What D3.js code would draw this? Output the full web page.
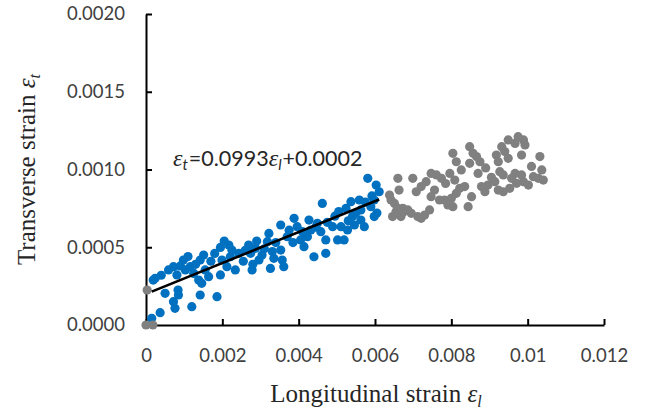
<!DOCTYPE html>
<html>
<head>
<meta charset="utf-8">
<script src="https://cdn.jsdelivr.net/npm/d3@7"></script>
<style>
  body { margin: 0; background: #fff; }
  svg { display: block; }
  .tick text { font-family: Lato, "Open Sans", sans-serif; fill: #404040; }
  .title { font-family: "Liberation Serif", serif; fill: #262626; }
  .eq { font-family: Lato, sans-serif; fill: #262626; }
</style>
</head>
<body>
<svg id="chart" width="647" height="412"></svg>
<script>
// fitted range (blue) — [longitudinal, transverse]
const bluePoints = [
  [0.00019,0.000289],[0.00024,0.000300],[0.00015,0.000043],[0.00037,0.000079],[0.00059,0.000354],
  [0.00072,0.000375],[0.00081,0.000322],[0.00098,0.000418],[0.00103,0.000354],[0.00116,0.000375],
  [0.00125,0.000332],[0.00142,0.000418],[0.00151,0.000450],[0.00155,0.000354],[0.00138,0.000289],
  [0.00146,0.000268],[0.00164,0.000311],[0.00050,0.000204],[0.00072,0.000150],[0.00076,0.000107],
  [0.00085,0.000193],[0.00120,0.000118],[0.00142,0.000193],[0.00186,0.000182],[0.00195,0.000499],
  [0.00217,0.000514],[0.00199,0.000418],[0.00221,0.000439],[0.00234,0.000354],[0.00212,0.000375],
  [0.00225,0.000482],[0.00243,0.000461],[0.00195,0.000322],[0.00269,0.000514],[0.00274,0.000461],
  [0.00287,0.000493],[0.00296,0.000418],[0.00278,0.000354],[0.00304,0.000450],[0.00318,0.000536],
  [0.00322,0.000589],[0.00331,0.000472],[0.00335,0.000429],[0.00326,0.000364],[0.00353,0.000482],
  [0.00357,0.000418],[0.00361,0.000375],[0.00353,0.000643],[0.00370,0.000568],[0.00388,0.000686],
  [0.00396,0.000632],[0.00405,0.000547],[0.00414,0.000504],[0.00427,0.000675],[0.00432,0.000611],
  [0.00423,0.000568],[0.00440,0.000439],[0.00449,0.000654],[0.00462,0.000782],[0.00458,0.000600],
  [0.00471,0.000461],[0.00471,0.000547],[0.00489,0.000632],[0.00502,0.000547],[0.00511,0.000632],
  [0.00519,0.000547],[0.00524,0.000750],[0.00537,0.000793],[0.00541,0.000697],[0.00546,0.000643],
  [0.00563,0.000740],[0.00563,0.000675],[0.00572,0.000632],[0.00581,0.000943],[0.00598,0.000697],
  [0.00598,0.000804],[0.00603,0.000900],[0.00611,0.000857],[0.00589,0.000761],[0.00559,0.000804],
  [0.00528,0.000611],[0.00040,0.000320],[0.00090,0.000380],[0.00110,0.000440],[0.00130,0.000390],
  [0.00170,0.000410],[0.00180,0.000460],[0.00205,0.000540],[0.00255,0.000410],[0.00260,0.000480],
  [0.00290,0.000540],[0.00310,0.000490],[0.00340,0.000530],[0.00375,0.000610],[0.00385,0.000530],
  [0.00410,0.000600],[0.00445,0.000630],[0.00475,0.000660],[0.00495,0.000700],[0.00505,0.000730],
  [0.00530,0.000670],[0.00550,0.000720],[0.00575,0.000790],[0.00592,0.000830],[0.00605,0.000720],
  [0.00084,0.000225],[0.00280,0.000390]
];

// remaining measurements (grey)
const greyPoints = [
  [0.00000,0.000000],[0.00018,0.000000],[0.00003,0.000225],
  [0.00638,0.000836],[0.00642,0.000804],[0.00651,0.000782],[0.00660,0.000750],[0.00646,0.000697],
  [0.00655,0.000729],[0.00668,0.000697],[0.00673,0.000750],[0.00686,0.000740],[0.00695,0.000718],
  [0.00712,0.000697],[0.00721,0.000686],[0.00743,0.000740],[0.00730,0.000707],[0.00660,0.000943],
  [0.00699,0.000943],[0.00708,0.000857],[0.00721,0.000890],[0.00734,0.000922],[0.00747,0.000975],
  [0.00761,0.000965],[0.00774,0.000943],[0.00756,0.000868],[0.00769,0.000804],[0.00782,0.000804],
  [0.00791,0.000772],[0.00804,0.000761],[0.00800,0.000815],[0.00813,0.000847],[0.00822,0.000879],
  [0.00809,0.000932],[0.00796,0.000975],[0.00804,0.001104],[0.00813,0.001050],[0.00826,0.000997],
  [0.00835,0.000890],[0.00844,0.000761],[0.00853,0.000825],[0.00848,0.001147],[0.00857,0.001104],
  [0.00848,0.001040],[0.00866,0.001083],[0.00875,0.001050],[0.00870,0.000975],[0.00879,0.000890],
  [0.00888,0.000857],[0.00896,0.000900],[0.00914,0.000922],[0.00923,0.001050],[0.00918,0.001093],
  [0.00932,0.001147],[0.00940,0.001115],[0.00949,0.001072],[0.00927,0.000986],[0.00936,0.000965],
  [0.00958,0.000943],[0.00967,0.000975],[0.00971,0.000911],[0.00984,0.000965],[0.00989,0.000922],
  [0.00975,0.001211],[0.00989,0.001190],[0.00993,0.001158],[0.00967,0.001168],[0.00949,0.001190],
  [0.00984,0.001093],[0.01002,0.000900],[0.01015,0.000954],[0.01032,0.001083],[0.01037,0.000997],
  [0.01028,0.000943],[0.01041,0.000932],[0.00923,0.000868],[0.00936,0.000857],[0.00953,0.000879],
  [0.00663,0.000868],[0.00674,0.000727],[0.00747,0.000825],[0.00890,0.001010],[0.00905,0.000950],
  [0.01010,0.001020],[0.00785,0.000910]
];

const trendSlope = 0.0993;
const trendIntercept = 0.0002;

const xTicks = [0, 0.002, 0.004, 0.006, 0.008, 0.010, 0.012];
const yTicks = [0, 0.0005, 0.0010, 0.0015, 0.0020];

const svg = d3.select('#chart');
const plotL = 146, plotT = 14, plotR = 604, plotB = 325;

const x = d3.scaleLinear().domain([0, 0.012]).range([plotL, plotR]);
const y = d3.scaleLinear().domain([0, 0.002]).range([plotB, plotT]);

const xAxis = d3.axisBottom(x).tickValues(xTicks).tickSizeInner(-6).tickSizeOuter(0).tickPadding(24)
  .tickFormat(d => d === 0 ? '0' : String(+d.toFixed(3)));
const yAxis = d3.axisLeft(y).tickValues(yTicks).tickSizeInner(-6).tickSizeOuter(0).tickPadding(21)
  .tickFormat(d3.format('.4f'));

const gx = svg.append('g').attr('transform', `translate(0,${plotB})`).call(xAxis);
const gy = svg.append('g').attr('transform', `translate(${plotL},0)`).call(yAxis);
[gx, gy].forEach(g => {
  g.selectAll('path, line').attr('stroke', '#000').attr('stroke-width', 2);
  g.selectAll('text').style('font-size', '18.5px');
});

const dots = svg.append('g');
dots.selectAll('.blue').data(bluePoints).enter().append('circle')
  .attr('cx', d => x(d[0])).attr('cy', d => y(d[1])).attr('r', 4.6).attr('fill', '#0070C0');
dots.selectAll('.grey').data(greyPoints).enter().append('circle')
  .attr('cx', d => x(d[0])).attr('cy', d => y(d[1])).attr('r', 4.6).attr('fill', '#808080');

// trend line over the fitted range
const ext = d3.extent(bluePoints, d => d[0]);
const line = d3.line().x(d => x(d)).y(d => y(trendSlope * d + trendIntercept));
svg.append('path').attr('d', line(ext)).attr('stroke', '#000').attr('stroke-width', 2.6).attr('fill', 'none');

// equation
const eq = svg.append('text').attr('class', 'eq').attr('x', 173).attr('y', 166).style('font-size', '21.5px');
eq.append('tspan').style('font-style', 'italic').style('font-family', 'Liberation Serif').style('font-size', '24px').text('ε');
eq.append('tspan').style('font-style', 'italic').attr('dy', 4).style('font-size', '15px').text('t');
eq.append('tspan').attr('dy', -4).attr('dx', 1).text('=0.0993');
eq.append('tspan').style('font-style', 'italic').style('font-family', 'Liberation Serif').style('font-size', '24px').text('ε');
eq.append('tspan').style('font-style', 'italic').attr('dy', 4).style('font-size', '15px').text('l');
eq.append('tspan').attr('dy', -4).attr('dx', 1).text('+0.0002');

// axis titles
const xt = svg.append('text').attr('class', 'title').attr('x', 376).attr('y', 402)
  .attr('text-anchor', 'middle').style('font-size', '25px');
xt.append('tspan').text('Longitudinal strain ');
xt.append('tspan').style('font-style', 'italic').text('ε');
xt.append('tspan').style('font-style', 'italic').attr('dy', 5).style('font-size', '16px').text('l');

const yt = svg.append('text').attr('class', 'title')
  .attr('transform', `translate(35,${(plotT + plotB) / 2}) rotate(-90)`)
  .attr('text-anchor', 'middle').style('font-size', '25px');
yt.append('tspan').text('Transverse strain ');
yt.append('tspan').style('font-style', 'italic').text('ε');
yt.append('tspan').style('font-style', 'italic').attr('dy', 5).style('font-size', '16px').text('t');
</script>
</body>
</html>
